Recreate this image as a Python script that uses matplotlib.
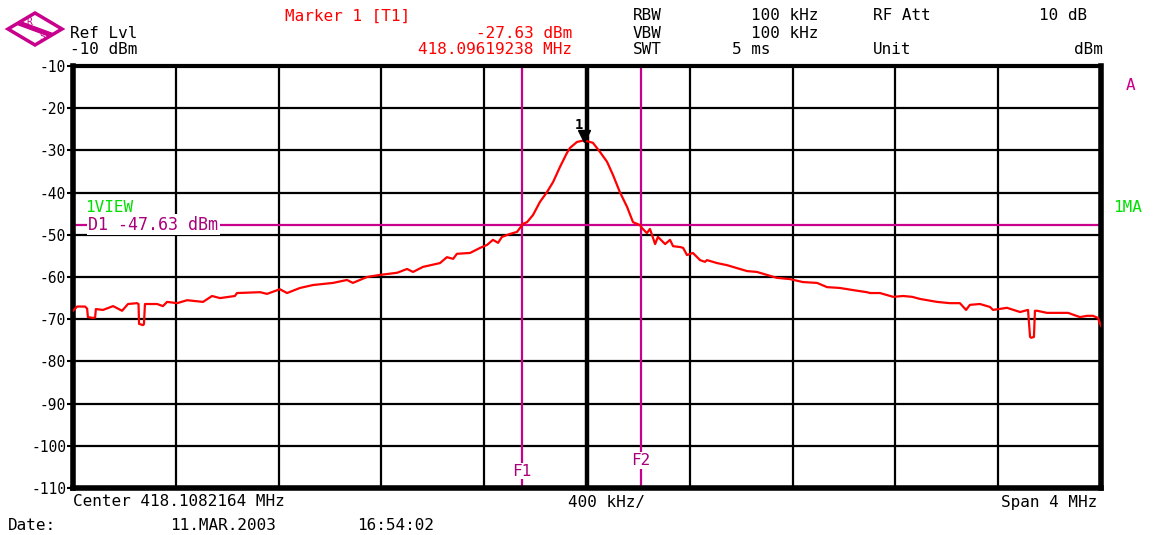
import matplotlib
matplotlib.use("Agg")
import matplotlib.pyplot as plt
from matplotlib.patches import Polygon

# Spectrum analyser screen: trace around 418.108 MHz, 4 MHz span
center_mhz = 418.1082164
span_mhz = 4.0
ref_level = -10
db_per_div = 10

# Trace read as (offset from center in kHz, level in dBm)
offset_khz = [
    -2000, -1984, -1953, -1945, -1942, -1922, -1914, -1911, -1883, -1844,
    -1809, -1786, -1751, -1745, -1743, -1728, -1724, -1720, -1673, -1650,
    -1634, -1595, -1556, -1494, -1459, -1428, -1370, -1362, -1272, -1245,
    -1195, -1167, -1117, -1066, -988, -934, -911, -856, -805, -739,
    -700, -677, -638, -572, -545, -521, -506, -455, -416, -389,
    -366, -346, -331, -300, -288, -272, -249, -233, -210, -183,
    -156, -132, -105, -78, -66, -39, -12, 23, 51, 78,
    101, 128, 156, 179, 206, 214, 233, 245, 257, 265,
    276, 296, 304, 323, 335, 362, 374, 389, 412, 440,
    459, 467, 506, 545, 595, 623, 661, 700, 739, 790,
    840, 895, 934, 984, 1035, 1089, 1101, 1140, 1191, 1230,
    1265, 1296, 1362, 1412, 1451, 1475, 1490, 1529, 1568, 1580,
    1634, 1685, 1716, 1724, 1728, 1739, 1743, 1751, 1790, 1840,
    1872, 1918, 1946, 1969, 1988, 2000,
]
level_dbm = [
    -68.0, -67.0, -67.0, -67.5, -69.5, -69.7, -69.6, -67.6, -67.8, -66.9,
    -68.0, -66.4, -66.2, -66.4, -71.1, -71.4, -71.2, -66.4, -66.4, -66.9,
    -65.9, -66.2, -65.5, -65.9, -64.5, -65.0, -64.5, -63.8, -63.6, -64.0,
    -62.9, -63.8, -62.6, -61.9, -61.4, -60.7, -61.4, -60.0, -59.5, -59.0,
    -58.1, -58.8, -57.6, -56.7, -55.3, -55.7, -54.5, -54.3, -53.1, -52.4,
    -51.2, -51.9, -50.5, -49.8, -49.6, -49.3, -47.4, -47.0, -45.3, -42.2,
    -39.9, -37.5, -33.9, -30.6, -29.4, -28.0, -27.63, -28.2, -30.4, -32.7,
    -35.8, -39.9, -43.4, -47.0, -47.7, -48.4, -49.6, -48.6, -50.8, -52.2,
    -50.5, -51.7, -52.2, -51.2, -52.7, -52.9, -53.1, -54.8, -54.3, -56.0,
    -56.4, -56.0, -56.7, -57.2, -58.1, -58.6, -58.8, -59.5, -60.2, -60.5,
    -61.2, -61.4, -62.4, -62.6, -63.1, -63.6, -63.8, -63.8, -64.7, -64.5,
    -64.7, -65.2, -65.9, -66.2, -66.2, -67.8, -66.6, -66.4, -67.1, -67.8,
    -67.3, -68.3, -67.8, -74.2, -74.4, -74.2, -68.0, -68.0, -68.5, -68.5,
    -68.5, -69.5, -69.2, -69.2, -69.7, -71.6,
]

# Marker and display line settings
marker_freq = 418.09619238
marker_level = -27.63
d1_level = -47.63
f1_khz = -253
f2_khz = 210

y_ticks = [-10, -20, -30, -40, -50, -60, -70, -80, -90, -100, -110]
y_tick_labels = ["-10", "-20", "-30", "-40", "-50", "-60", "-70",
                 "-80", "-90", "-100", "-110"]

RED = "#ff0000"
MAG = "#c8008c"
MAG_TXT = "#a8007a"
GREEN = "#00e000"
FONT = "DejaVu Sans Mono"

W, H = 1159, 535
fig = plt.figure(figsize=(W / 100, H / 100), dpi=100)
fig.patch.set_facecolor("white")

# main graticule
ax = fig.add_axes([73 / W, (H - 488) / H, 1028 / W, 422 / H])
freqs = [center_mhz + k / 1000 for k in offset_khz]
lo = center_mhz - span_mhz / 2
hi = center_mhz + span_mhz / 2
ax.set_xlim(lo, hi)
ax.set_ylim(ref_level - 10 * db_per_div, ref_level)

for i in range(1, 10):
    x = lo + i * span_mhz / 10
    ax.axvline(x, color="black", lw=3.2 if i == 5 else 1.6, zorder=1)
for v in y_ticks[1:-1]:
    ax.axhline(v, color="black", lw=1.6, zorder=1)

ax.set_yticks(y_ticks)
ax.set_yticklabels(y_tick_labels, fontfamily=FONT, fontsize=10.5)
ax.set_xticks([])
ax.tick_params(axis="y", length=4, width=1.5, pad=1)
for side in ["left", "bottom", "right"]:
    ax.spines[side].set_linewidth(4)
ax.spines["top"].set_linewidth(3)

# display line D1 and frequency lines F1/F2
ax.axhline(d1_level, color=MAG, lw=1.6, zorder=2)
ax.axvline(center_mhz + f1_khz / 1000, color=MAG, lw=1.6, zorder=2)
ax.axvline(center_mhz + f2_khz / 1000, color=MAG, lw=1.6, zorder=2)
ax.text(lo + 0.06, d1_level, "D1 -47.63 dBm", color=MAG_TXT, fontfamily=FONT,
        fontsize=12, va="center", ha="left", zorder=3,
        bbox=dict(facecolor="white", edgecolor="none", pad=1))
ax.text(center_mhz + f1_khz / 1000, -106, "F1", color=MAG_TXT, fontfamily=FONT,
        fontsize=11.5, ha="center", va="center", zorder=3,
        bbox=dict(facecolor="white", edgecolor="none", pad=0.5))
ax.text(center_mhz + f2_khz / 1000, -103.5, "F2", color=MAG_TXT, fontfamily=FONT,
        fontsize=11.5, ha="center", va="center", zorder=3,
        bbox=dict(facecolor="white", edgecolor="none", pad=0.5))

# trace
ax.plot(freqs, level_dbm, color=RED, lw=1.6, zorder=4)

# marker 1
ax.plot([marker_freq], [marker_level + 1.0], marker="v", color="black",
        markersize=8, zorder=5)
ax.text(marker_freq - 0.02, marker_level + 2.0, "1", color="black",
        fontfamily=FONT, fontsize=10, fontweight="bold", ha="center",
        va="bottom", zorder=5)

# screen annotations in pixel coordinates
ov = fig.add_axes([0, 0, 1, 1], facecolor="none")
ov.set_xlim(0, W)
ov.set_ylim(H, 0)
ov.axis("off")

# R&S logo
ov.add_patch(Polygon([[8, 29], [35, 13], [62, 29], [35, 45]], closed=True,
                     facecolor="white", edgecolor=MAG, lw=2.5))
ov.add_patch(Polygon([[16, 24], [20, 21.5], [54, 34], [50, 36.5]], closed=True,
                     facecolor=MAG, edgecolor=MAG))
ov.text(29, 22, "R", color=MAG, fontsize=7, fontfamily=FONT, ha="center",
        va="center")
ov.text(42, 37, "S", color=MAG, fontsize=7, fontfamily=FONT, ha="center",
        va="center")

def put(x, y, s, color="black", ha="left", size=11.5):
    ov.text(x, y, s, color=color, fontfamily=FONT, fontsize=size, ha=ha,
            va="center")

put(70, 33, "Ref Lvl")
put(70, 50, "-10 dBm")
put(285, 16, "Marker 1 [T1]", RED)
put(572, 33, "-27.63 dBm", RED, ha="right")
put(572, 50, "418.09619238 MHz", RED, ha="right")
put(633, 16, "RBW")
put(633, 33, "VBW")
put(633, 50, "SWT")
put(818, 16, "100 kHz", ha="right")
put(818, 33, "100 kHz", ha="right")
put(770, 50, "5 ms", ha="right")
put(873, 16, "RF Att")
put(873, 50, "Unit")
put(1087, 16, "10 dB", ha="right")
put(1103, 50, "dBm", ha="right")
put(1126, 85, "A", MAG)
put(85, 208, "1VIEW", GREEN)
put(1113, 208, "1MA", GREEN)
put(73, 502, "Center 418.1082164 MHz")
put(645, 502, "400 kHz/", ha="right")
put(1097, 502, "Span 4 MHz", ha="right")
put(8, 525, "Date:")
put(170, 525, "11.MAR.2003")
put(357, 525, "16:54:02")

fig.savefig("out.png", dpi=100)
